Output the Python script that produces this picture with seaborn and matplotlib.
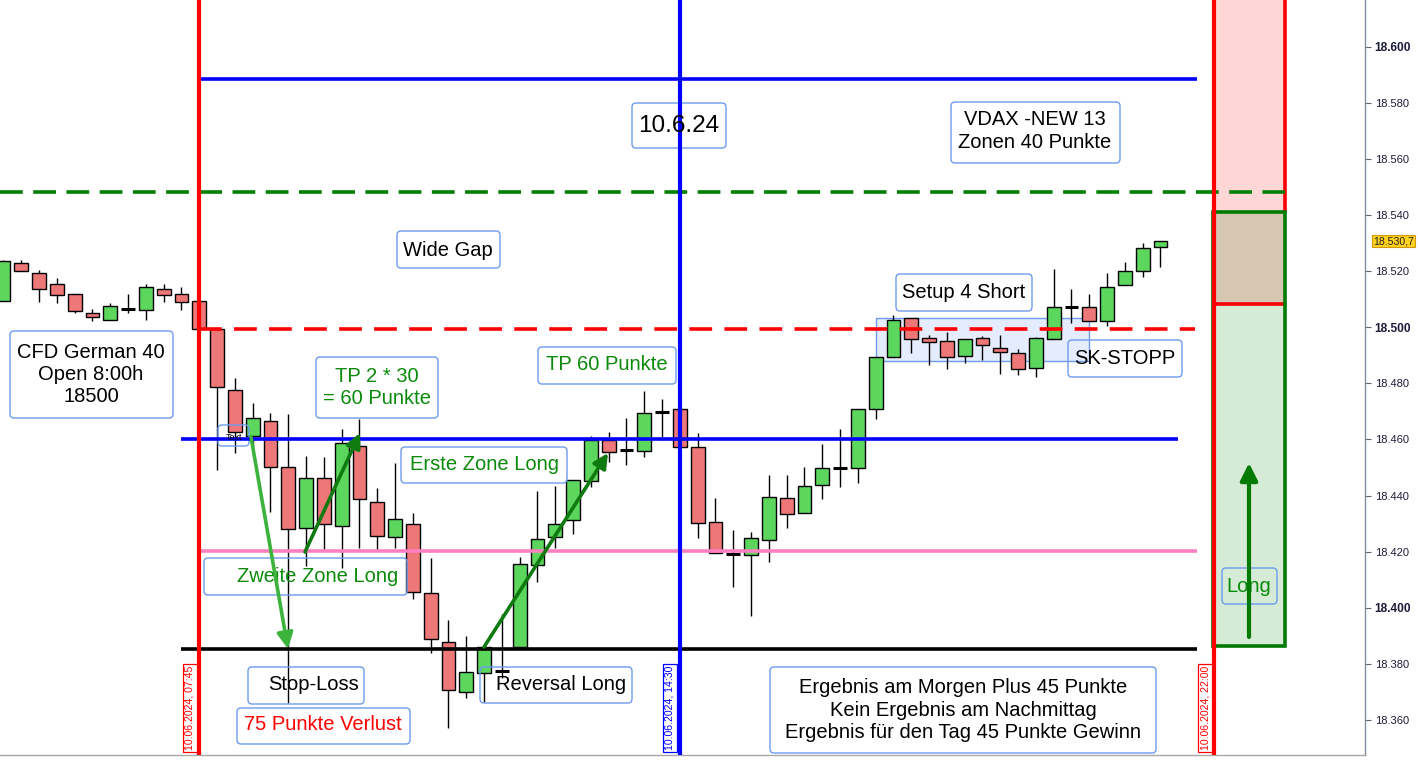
import numpy as np
import pandas as pd
import matplotlib
matplotlib.use("Agg")
import matplotlib.pyplot as plt
import matplotlib.transforms as mtransforms
from matplotlib.patches import FancyBboxPatch, Rectangle
import seaborn as sns

# ---------------- data (15-minute candles, CFD German 40, 10.06.2024) ----------------
opens = [18509.2, 18522.8, 18519.2, 18515.3, 18511.8, 18505.2, 18502.5, 18506.6, 18506.0, 18513.7,
         18511.7, 18509.2, 18499.3, 18477.7, 18461.2, 18466.7, 18450.1, 18428.3, 18446.3, 18429.1,
         18457.8, 18437.8, 18425.2, 18429.7, 18405.1, 18387.9, 18370.1, 18376.6, 18377.4, 18386.1,
         18415.1, 18425.1, 18431.3, 18445.2, 18459.8, 18456.1, 18455.8, 18469.8, 18470.7, 18457.4,
         18430.7, 18419.1, 18418.8, 18424.0, 18439.0, 18433.7, 18443.6, 18449.9, 18449.7, 18470.7,
         18489.3, 18503.2, 18496.0, 18495.1, 18489.8, 18496.0, 18492.5, 18490.7, 18485.6, 18495.7,
         18507.2, 18507.1, 18502.1, 18514.9, 18519.9, 18528.5]
highs = [18523.9, 18524.0, 18520.4, 18517.4, 18511.8, 18506.4, 18508.5, 18511.7, 18515.3, 18515.4,
         18514.3, 18509.2, 18499.5, 18481.9, 18472.9, 18469.3, 18469.1, 18454.1, 18453.6, 18463.6,
         18467.2, 18442.6, 18451.5, 18433.9, 18417.6, 18395.6, 18390.0, 18386.1, 18397.8, 18418.2,
         18441.6, 18443.4, 18445.5, 18461.2, 18462.5, 18467.5, 18477.3, 18474.4, 18470.7, 18462.2,
         18439.0, 18427.7, 18427.1, 18447.3, 18447.3, 18450.1, 18458.4, 18463.6, 18470.7, 18489.3,
         18504.3, 18503.2, 18497.2, 18498.4, 18495.7, 18496.9, 18497.2, 18492.2, 18496.6, 18520.6,
         18513.5, 18511.7, 18519.4, 18523.2, 18529.9, 18530.9]
lows = [18509.2, 18519.9, 18509.1, 18508.7, 18505.2, 18502.3, 18502.5, 18505.0, 18502.6, 18509.1,
        18506.1, 18499.3, 18449.1, 18455.3, 18456.2, 18434.2, 18365.9, 18414.9, 18420.6, 18414.0,
        18421.2, 18420.6, 18421.2, 18403.1, 18383.7, 18357.0, 18367.7, 18366.5, 18374.8, 18386.1,
        18409.3, 18421.2, 18426.2, 18443.1, 18452.1, 18450.9, 18453.8, 18459.8, 18457.2, 18424.7,
        18419.4, 18407.3, 18397.1, 18416.4, 18428.5, 18433.7, 18438.6, 18443.1, 18444.6, 18467.2,
        18489.3, 18490.9, 18486.5, 18485.0, 18487.3, 18488.3, 18483.3, 18483.0, 18482.4, 18495.7,
        18501.6, 18502.3, 18500.5, 18514.9, 18518.0, 18521.6]
closes = [18523.5, 18519.9, 18513.5, 18511.4, 18505.9, 18503.5, 18507.5, 18506.6, 18514.2, 18511.4,
          18508.9, 18499.3, 18478.7, 18462.5, 18467.5, 18450.1, 18427.9, 18446.3, 18429.7, 18458.6,
          18438.8, 18425.6, 18431.5, 18405.5, 18388.8, 18370.7, 18377.0, 18386.1, 18377.6, 18415.5,
          18424.6, 18429.7, 18445.5, 18459.8, 18455.4, 18456.1, 18469.3, 18469.8, 18457.2, 18430.1,
          18419.4, 18419.1, 18424.7, 18439.6, 18433.3, 18443.3, 18449.7, 18449.9, 18470.7, 18489.3,
          18502.5, 18495.7, 18494.6, 18489.5, 18495.7, 18493.5, 18491.1, 18485.0, 18496.0, 18507.1,
          18507.2, 18502.3, 18514.2, 18519.9, 18528.1, 18530.7]

# horizontal levels
level_blue_top = 18588.5
level_green_dash = 18548.2
level_open = 18499.5
level_zone1 = 18460.0
level_zone2 = 18420.2
level_stop = 18385.3

# long position tool (right side)
long_entry = 18386.3
long_target = 18541.1
long_stop_zone = 18508.3

last_price = 18530.7
last_price_label = "18.530,7"

# vertical session markers (candle index, label)
vline_idx = [11, 38, 68]
vline_labels = ["10.06.2024, 07:45", "10.06.2024, 14:30", "10.06.2024, 22:00"]

ytick_values = [18360, 18380, 18400, 18420, 18440, 18460, 18480, 18500, 18520, 18540, 18560, 18580, 18600]
ytick_bold = [18400, 18500, 18600]

df = pd.DataFrame({"open": opens, "high": highs, "low": lows, "close": closes})
df["idx"] = np.arange(len(df))

# ---------------- figure ----------------
sns.set_theme(style="white")
plt.rcParams["font.family"] = ["Liberation Sans", "DejaVu Sans"]

W, H = 1418, 761
AX_BOTTOM_PX = 755
fig = plt.figure(figsize=(W / 100, H / 100), dpi=100)
ax = fig.add_axes([0, 1 - AX_BOTTOM_PX / H, 1365 / W, AX_BOTTOM_PX / H])

def X(px):
    return (px - 3.5) / 17.8

def Y(py):
    return 18500 + (327.2 - py) / 2.805

PX = mtransforms.Affine2D().scale(1 / W, -1 / H).translate(0, 1) + fig.transFigure

ax.set_xlim(X(0), X(1365))
ax.set_ylim(Y(AX_BOTTOM_PX), Y(0))

GREEN_C = "#5cd65c"
RED_C = "#ee7777"
TXT_GREEN = "#0a8a0a"

# light blue consolidation rectangle (behind candles)
ax.add_patch(Rectangle((876, 318), 213, 43, transform=PX, facecolor="#e4ecfd",
                       edgecolor="#6d9bf1", lw=1.0, zorder=1))

# candles
w = 0.78
for _, r in df.iterrows():
    i = r["idx"]
    ax.vlines(i, r["low"], r["high"], color="black", lw=1.0, zorder=3)
    if abs(r["close"] - r["open"]) < 0.5:
        ax.hlines(r["open"], i - w / 2, i + w / 2, color="black", lw=2.2, zorder=4)
    else:
        col = GREEN_C if r["close"] > r["open"] else RED_C
        ax.bar(i, r["close"] - r["open"], bottom=r["open"], width=w, color=col,
               edgecolor="black", linewidth=1.0, zorder=4)

# right-side long position tool
rx0, rx1 = X(1213), X(1285)
ax.add_patch(Rectangle((rx0, long_stop_zone), rx1 - rx0, 400, facecolor="#ffd6d6",
                       edgecolor="none", zorder=1))
ax.add_patch(Rectangle((rx0, long_entry), rx1 - rx0, long_target - long_entry,
                       facecolor="#d6ebd6", edgecolor="none", zorder=1))
ax.add_patch(Rectangle((rx0, long_stop_zone), rx1 - rx0, long_target - long_stop_zone,
                       facecolor="#d5c7b2", edgecolor="none", zorder=1))
ax.vlines(rx1, long_target, Y(0), color="red", lw=2.6, zorder=5)
ax.hlines(long_stop_zone, rx0, rx1, color="red", lw=2.6, zorder=5)
ax.add_patch(Rectangle((rx0, long_entry), rx1 - rx0, long_target - long_entry,
                       facecolor="none", edgecolor="#007a00", lw=2.6, zorder=5))

# horizontal lines
ax.hlines(level_blue_top, X(199), X(1197), color="#0000ff", lw=2.6, zorder=6)
ax.hlines(level_green_dash, X(0), X(1285), color="#008000", lw=2.6,
          linestyles=[(0, (6.3, 2.9))], zorder=6)
ax.hlines(level_open, X(199), X(1195), color="#ff0000", lw=2.6,
          linestyles=[(0, (6.3, 3.4))], zorder=6)
ax.hlines(level_zone1, X(181), X(1178), color="#0000ff", lw=2.6, zorder=6)
ax.hlines(level_zone2, X(199), X(1197), color="#ff80c0", lw=2.6, zorder=6)
ax.hlines(level_stop, X(181), X(1197), color="black", lw=2.6, zorder=6)

# vertical session lines
vcols = ["#ff0000", "#0000ff", "#ff0000"]
for vi, col in zip(vline_idx, vcols):
    ax.axvline(vi, color=col, lw=3.0, zorder=7)

# text boxes (pixel layout)
text_boxes = [
    (632, 726, 103, 148, "10.6.24", "black", 17.5, (679, 126), 1.2),
    (951, 1120, 102, 163, "VDAX -NEW 13\nZonen 40 Punkte", "black", 14.5, (1035, 131), 1.25),
    (397, 500, 231, 268, "Wide Gap", "black", 14.5, (448, 250), 1.2),
    (10, 173, 331, 418, "CFD German 40\nOpen 8:00h\n18500", "black", 14.5, (91, 374), 1.2),
    (316, 438, 357, 418, "TP 2 * 30\n= 60 Punkte", TXT_GREEN, 14.5, (377, 387), 1.2),
    (538, 676, 347, 384, "TP 60 Punkte", TXT_GREEN, 14.5, (607, 365), 1.2),
    (401, 567, 447, 483, "Erste Zone Long", TXT_GREEN, 14.5, (484, 464), 1.2),
    (204, 407, 558, 595, "Zweite Zone Long", TXT_GREEN, 14.5, (318, 576), 1.2),
    (248, 364, 667, 704, "Stop-Loss", "black", 14.5, (314, 685), 1.2),
    (237, 410, 708, 744, "75 Punkte Verlust", "#ff0000", 14.5, (323, 725), 1.2),
    (480, 632, 667, 703, "Reversal Long", "black", 14.5, (561, 684), 1.2),
    (770, 1156, 667, 753,
     "Ergebnis am Morgen Plus 45 Punkte\nKein Ergebnis am Nachmittag\nErgebnis für den Tag 45 Punkte Gewinn",
     "black", 14.5, (963, 710), 1.25),
    (896, 1032, 274, 311, "Setup 4 Short", "black", 14.5, (964, 292), 1.2),
    (1068, 1182, 340, 377, "SK-STOPP", "black", 14.5, (1125, 358), 1.2),
    (1222, 1277, 568, 604, "Long", TXT_GREEN, 14.5, (1249, 586), 1.2),
    (218, 249, 425, 446, "Text", "black", 6.5, (234, 437), 1.2),
]
for x0, x1, y0, y1, txt, col, fs, (tx, ty), ls in text_boxes:
    ax.add_patch(FancyBboxPatch((x0, y0), x1 - x0, y1 - y0,
                                boxstyle="round,pad=0,rounding_size=4", transform=PX,
                                facecolor="none", edgecolor="#6d9bf1", lw=1.0, zorder=5,
                                clip_on=False))
    ax.text(tx, ty, txt, transform=PX, ha="center", va="center", color=col,
            fontsize=fs, linespacing=ls, zorder=8, clip_on=False)

# vertical date labels
date_pos = [(190, "#ff0000"), (670, "#0000ff"), (1205, "#ff0000")]
for (dx, col), lab in zip(date_pos, vline_labels):
    ax.text(dx, 708, lab, transform=PX, rotation=90, ha="center", va="center",
            color=col, fontsize=7.6, zorder=8,
            bbox=dict(boxstyle="square,pad=0.15", facecolor="white", edgecolor=col, lw=0.9))

# arrows
arrows = [
    ((251, 437), (288, 649), "#3cb33c", 2.6, 24),
    ((305, 552), (360, 433), "#0f7a0f", 2.6, 22),
    ((484, 647), (608, 453), "#0f7a0f", 2.6, 22),
    ((1249, 637), (1249, 463), "#007a00", 3.0, 26),
]
for (sx, sy), (ex, ey), col, lw, ms in arrows:
    ax.annotate("", xy=(ex, ey), xytext=(sx, sy), xycoords=PX, textcoords=PX,
                arrowprops=dict(arrowstyle="-|>", color=col, lw=lw, mutation_scale=ms,
                                shrinkA=0, shrinkB=0), zorder=9)

# axes styling
ax.set_xticks([])
ax.yaxis.tick_right()
ax.set_yticks(ytick_values)
ax.set_yticklabels([f"{v / 1000:.3f}" for v in ytick_values])
ax.tick_params(axis="y", right=True, length=4, width=0.8, color="#5a6a7a",
               pad=3, labelsize=8, labelcolor="#1c1c3a")
for lab, v in zip(ax.get_yticklabels(), ytick_values):
    if v in ytick_bold:
        lab.set_fontweight("bold")
        lab.set_fontsize(8.6)
for side in ["top", "left"]:
    ax.spines[side].set_visible(False)
ax.spines["right"].set_color("#7f8fa0")
ax.spines["right"].set_linewidth(1.0)
ax.spines["bottom"].set_color("#a8a8a8")
ax.spines["bottom"].set_linewidth(1.0)
ax.set_ylabel("")
ax.grid(False)

# current price marker
ax.text(1 + 8 / 1365, last_price, last_price_label, transform=ax.get_yaxis_transform(),
        ha="left", va="center", fontsize=7.6, color="#202020", clip_on=False, zorder=10,
        bbox=dict(boxstyle="square,pad=0.12", facecolor="#ffd21f", edgecolor="#d29a00", lw=0.8))

fig.savefig("out.png", dpi=100)
